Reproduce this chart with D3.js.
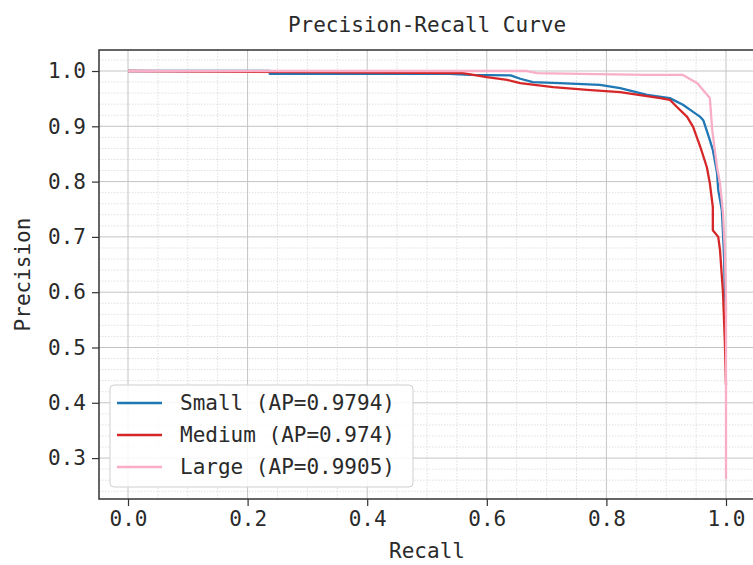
<!DOCTYPE html>
<html><head><meta charset="utf-8">
<script src="https://cdn.jsdelivr.net/npm/d3@7"></script>
<style>body{margin:0;background:#fff}svg{display:block}text{font-family:"DejaVu Sans Mono",monospace;fill:#2a2a2a}</style>
</head><body><svg id="c" width="753" height="565"></svg>
<script>
const seriesNames = ["Small (AP=0.9794)", "Medium (AP=0.974)", "Large (AP=0.9905)"];
const seriesColors = ["#1f77b4", "#d62728", "#f7aec6"];
const smallRecall =    [0, 0.237, 0.237, 0.538, 0.572, 0.640, 0.656, 0.677, 0.722, 0.789, 0.823, 0.868, 0.906, 0.928, 0.945, 0.957, 0.962, 0.973, 0.978, 0.985, 0.987, 0.993, 0.995, 0.997, 0.998, 1.0];
const smallPrecision = [1, 1.0,   0.995, 0.995, 0.993, 0.992, 0.986, 0.980, 0.978, 0.975, 0.969, 0.957, 0.951, 0.939, 0.926, 0.917, 0.911, 0.875, 0.857, 0.816, 0.785, 0.749, 0.707, 0.658, 0.604, 0.568];
const mediumRecall =    [0, 0.560, 0.600, 0.634, 0.656, 0.711, 0.768, 0.823, 0.890, 0.906, 0.918, 0.935, 0.945, 0.957, 0.968, 0.973, 0.978, 0.978, 0.987, 0.990, 0.995, 0.998, 1.0];
const mediumPrecision = [1, 0.996, 0.989, 0.984, 0.978, 0.971, 0.966, 0.962, 0.951, 0.948, 0.935, 0.917, 0.899, 0.863, 0.826, 0.797, 0.754, 0.712, 0.700, 0.676, 0.599, 0.514, 0.432];
const largeRecall =    [0, 0.667, 0.684, 0.756, 0.868, 0.928, 0.952, 0.973, 0.977, 0.985, 0.990, 0.995, 0.998, 1.0, 1.0];
const largePrecision = [1, 1.0,   0.996, 0.995, 0.993, 0.993, 0.978, 0.951, 0.893, 0.826, 0.797, 0.743, 0.676, 0.586, 0.262];
const xTicks = [0.0, 0.2, 0.4, 0.6, 0.8, 1.0];
const yTicks = [0.3, 0.4, 0.5, 0.6, 0.7, 0.8, 0.9, 1.0];

const FS = 21;
const svg = d3.select("#c");
const L = 99, R = 755, T = 50, B = 499;
const x = d3.scaleLinear().domain([-0.0485, 1.0485]).range([L, R]);
const y = d3.scaleLinear().domain([0.226, 1.038]).range([B, T]);

svg.append("defs").append("clipPath").attr("id","clip").append("rect")
  .attr("x",L).attr("y",T).attr("width",R-L).attr("height",B-T);

// minor grid
const xMinor = d3.range(0, 1.0001, 0.05).filter(v => Math.abs(v*5 - Math.round(v*5)) > 1e-6);
const yMinor = d3.range(0.24, 1.031, 0.02).filter(v => Math.abs(v*10 - Math.round(v*10)) > 1e-6);
const g = svg.append("g");
g.selectAll(".xm").data(xMinor).enter().append("line")
  .attr("x1", d=>x(d)).attr("x2", d=>x(d)).attr("y1",T).attr("y2",B)
  .attr("stroke","#d8d8d8").attr("stroke-width",0.8).attr("stroke-dasharray","1.5,1.5");
g.selectAll(".ym").data(yMinor).enter().append("line")
  .attr("y1", d=>y(d)).attr("y2", d=>y(d)).attr("x1",L).attr("x2",R)
  .attr("stroke","#d8d8d8").attr("stroke-width",0.8).attr("stroke-dasharray","1.5,1.5");
// major grid
g.selectAll(".xg").data(xTicks).enter().append("line")
  .attr("x1", d=>x(d)).attr("x2", d=>x(d)).attr("y1",T).attr("y2",B)
  .attr("stroke","#c4c4c4").attr("stroke-width",1);
g.selectAll(".yg").data(yTicks).enter().append("line")
  .attr("y1", d=>y(d)).attr("y2", d=>y(d)).attr("x1",L).attr("x2",R)
  .attr("stroke","#c4c4c4").attr("stroke-width",1);

// curves
const line = d3.line().x(d=>x(d[0])).y(d=>y(d[1]));
const series = [
  d3.zip(smallRecall, smallPrecision),
  d3.zip(mediumRecall, mediumPrecision),
  d3.zip(largeRecall, largePrecision)
];
const cg = svg.append("g").attr("clip-path","url(#clip)");
series.forEach((s,i) => {
  cg.append("path").datum(s).attr("d", line).attr("fill","none")
    .attr("stroke", seriesColors[i]).attr("stroke-width", 2.3).attr("stroke-linejoin","round");
});

// axes
const xAxis = svg.append("g").attr("transform",`translate(0,${B})`)
  .call(d3.axisBottom(x).tickValues(xTicks).tickFormat(d3.format(".1f")).tickSize(7).tickPadding(5).tickSizeOuter(0));
const yAxis = svg.append("g").attr("transform",`translate(${L},0)`)
  .call(d3.axisLeft(y).tickValues(yTicks).tickFormat(d3.format(".1f")).tickSize(7).tickPadding(6).tickSizeOuter(0));
[xAxis, yAxis].forEach(a => {
  a.select(".domain").remove();
  a.selectAll("line").attr("stroke","#333").attr("stroke-width",1.2);
  a.selectAll("text").attr("font-size",FS).attr("fill","#2a2a2a")
    .style("font-family",'"DejaVu Sans Mono",monospace');
});
// spines
svg.append("rect").attr("x",L).attr("y",T).attr("width",R-L).attr("height",B-T)
  .attr("fill","none").attr("stroke","#333").attr("stroke-width",1.5);

// titles
svg.append("text").attr("x",(L+R)/2).attr("y",32).attr("text-anchor","middle")
  .attr("font-size",FS).text("Precision-Recall Curve");
svg.append("text").attr("x",(L+R)/2).attr("y",558).attr("text-anchor","middle")
  .attr("font-size",FS).text("Recall");
svg.append("text").attr("transform",`translate(30,${(T+B)/2}) rotate(-90)`).attr("text-anchor","middle")
  .attr("font-size",FS).text("Precision");

// legend
const lg = svg.append("g");
lg.append("rect").attr("x",110).attr("y",385).attr("width",303).attr("height",102).attr("rx",4)
  .attr("fill","#fff").attr("fill-opacity",0.85).attr("stroke","#cfcfcf").attr("stroke-width",1);
seriesNames.forEach((n,i) => {
  const yy = 403 + i*32;
  lg.append("line").attr("x1",117).attr("x2",162).attr("y1",yy).attr("y2",yy)
    .attr("stroke",seriesColors[i]).attr("stroke-width",2.3);
  lg.append("text").attr("x",180).attr("y",yy).attr("dy","0.35em").attr("font-size",FS).text(n);
});
</script></body></html>
